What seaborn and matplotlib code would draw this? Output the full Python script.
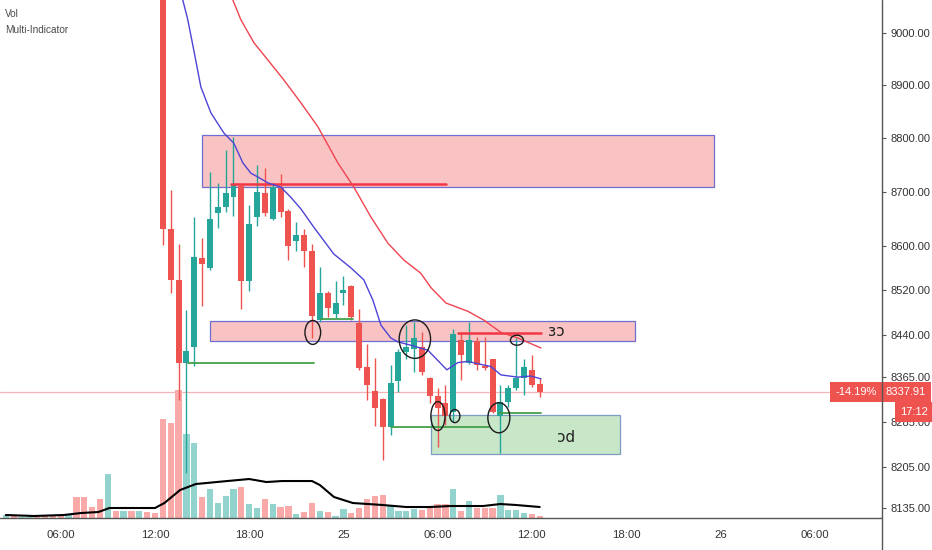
import numpy as np
import pandas as pd
import matplotlib
matplotlib.use("Agg")
import matplotlib.pyplot as plt
import matplotlib.transforms as mtransforms
from matplotlib.patches import Rectangle, Ellipse
from matplotlib.lines import Line2D
from matplotlib.ticker import FixedLocator, FixedFormatter, NullLocator
import seaborn as sns

# 30 min candles, time in hours counted from 24 Oct 00:00
times = np.arange(2.5, 37.0, 0.5)
opens = [9412, 9415, 9409, 9413, 9416, 9410, 9404, 9396, 9392, 9399,
         9378, 9357, 9349, 9331, 9386, 9378, 9387, 9380, 9389, 9384,
         9380, 8632, 8539, 8390, 8417, 8579, 8561, 8661, 8672, 8690,
         8712, 8537, 8654, 8698, 8650, 8707, 8665, 8610, 8621, 8592,
         8466, 8516, 8477, 8515, 8528, 8461, 8382, 8339, 8325, 8276,
         8357, 8408, 8415, 8417, 8362, 8330, 8318, 8302, 8430, 8390,
         8428, 8384, 8396, 8295, 8320, 8345, 8362, 8377, 8352]
highs = [9420, 9418, 9416, 9419, 9418, 9414, 9407, 9401, 9402, 9401,
         9381, 9362, 9352, 9392, 9390, 9391, 9389, 9392, 9391, 9388,
         9386, 8704, 8604, 8484, 8654, 8616, 8737, 8717, 8778, 8803,
         8715, 8676, 8750, 8745, 8716, 8733, 8668, 8645, 8632, 8604,
         8562, 8519, 8537, 8546, 8530, 8486, 8423, 8399, 8327, 8386,
         8414, 8457, 8462, 8444, 8364, 8345, 8350, 8450, 8443, 8462,
         8435, 8435, 8397, 8350, 8350, 8434, 8397, 8403, 8363]
lows = [9405, 9404, 9406, 9408, 9407, 9401, 9393, 9388, 9389, 9372,
        9352, 9344, 9326, 9328, 9374, 9375, 9377, 9378, 9381, 9376,
        8602, 8516, 8323, 8195, 8384, 8491, 8557, 8634, 8663, 8656,
        8486, 8519, 8637, 8656, 8648, 8654, 8575, 8592, 8562, 8434,
        8462, 8471, 8470, 8493, 8466, 8377, 8323, 8277, 8217, 8262,
        8337, 8397, 8373, 8368, 8318, 8240, 8279, 8284, 8359, 8388,
        8377, 8377, 8301, 8230, 8311, 8341, 8332, 8346, 8328]
closes = [9415, 9409, 9413, 9416, 9410, 9404, 9396, 9392, 9399, 9378,
          9357, 9349, 9331, 9386, 9378, 9387, 9380, 9389, 9384, 9380,
          8632, 8539, 8390, 8410, 8580, 8568, 8650, 8672, 8698, 8715,
          8537, 8641, 8700, 8661, 8709, 8663, 8601, 8621, 8592, 8473,
          8516, 8488, 8497, 8520, 8471, 8380, 8350, 8310, 8276, 8354,
          8408, 8417, 8434, 8373, 8330, 8310, 8295, 8441, 8403, 8430,
          8386, 8380, 8302, 8320, 8345, 8362, 8382, 8350, 8337.91]
volumes = [3, 2, 1, 1, 1, 2, 3, 2, 3, 21,
           21, 11, 19, 44, 7, 7, 7, 7, 6, 5,
           99, 95, 128, 84, 75, 21, 29, 15, 22, 29,
           31, 14, 10, 19, 14, 11, 12, 4, 6, 15,
           7, 6, 2, 9, 5, 10, 19, 22, 23, 12,
           7, 7, 9, 8, 10, 14, 14, 29, 7, 17,
           10, 10, 10, 23, 8, 8, 5, 4, 2]

# volume moving average
vol_ma_t = [2.5, 4.3, 6.2, 7.3, 8.4, 9.1, 12.0, 12.6, 13.6, 14.6, 16.6, 18.0, 19.1,
            20.1, 22.0, 22.5, 23.4, 24.6, 26.5, 28.0, 29.5, 30.8, 32.9, 34.0, 35.0, 36.5]
vol_ma = [3, 2, 3, 5, 6, 10, 10, 15, 28, 34, 37, 39, 36,
          37, 37, 33, 21, 15, 13, 11, 11, 12, 12, 14, 13, 11]

# moving averages from the Multi-Indicator
fast_t = [13.5, 13.77, 14.09, 14.47, 14.92, 15.56, 16.39, 17.02, 17.6, 18.11, 18.55, 19.19,
          20.02, 20.66, 21.29, 22.12, 23.39, 24.47, 25.3, 25.88, 26.39, 27.02, 27.47, 28.3,
          29.38, 30.59, 31.29, 31.93, 32.88, 33.39, 34.03, 35.11, 35.94, 36.58]
fast = [9140, 9063, 9025, 8967, 8897, 8848, 8810, 8791, 8754, 8735, 8728, 8717,
        8709, 8690, 8669, 8635, 8586, 8561, 8539, 8502, 8457, 8434, 8427, 8421,
        8412, 8377, 8390, 8392, 8386, 8383, 8368, 8364, 8366, 8361]
slow_t = [16.6, 16.96, 17.47, 18.3, 19.19, 20.21, 21.29, 22.37, 23.65, 24.67, 25.75,
          26.83, 27.85, 28.93, 29.57, 30.53, 31.93, 32.95, 34.03, 35.11, 36.58]
slow = [9140, 9063, 9025, 8981, 8948, 8910, 8867, 8822, 8754, 8709, 8654,
        8606, 8575, 8551, 8525, 8497, 8482, 8466, 8444, 8434, 8416]

price_ticks = [8135, 8205, 8285, 8365, 8440, 8520, 8600, 8700, 8800, 8900, 9000]
time_ticks = [6, 12, 18, 24, 30, 36, 42, 48, 54]
time_labels = ["06:00", "12:00", "18:00", "25", "06:00", "12:00", "18:00", "26", "06:00"]

# drawn zones: (t0, t1, p_low, p_high)
zones_red = [(15.0, 47.6, 8709, 8806), (15.5, 42.6, 8428, 8464)]
zone_green = (29.57, 41.6, 8228, 8297)
# drawn levels: (t0, t1, price)
red_levels = [(16.83, 30.53, 8715), (31.29, 36.58, 8443)]
green_levels = [(14.09, 22.12, 8390), (22.56, 24.6, 8468), (27.02, 33.3, 8276), (33.9, 36.58, 8300)]
# hand drawn circles: (t, price, width in hours, height in price)
circles = [(22.05, 8444, 1.0, 43), (28.55, 8432, 2.0, 69), (30.02, 8295, 0.9, 51),
           (31.1, 8295, 0.64, 23), (33.9, 8292, 1.4, 53), (35.05, 8430, 0.83, 18)]

df = pd.DataFrame(dict(t=times, o=opens, h=highs, l=lows, c=closes, v=volumes))
df["up"] = df.c >= df.o
last = closes[-1]

sns.set_style("white")
plt.rcParams["font.family"] = ["Liberation Sans", "DejaVu Sans"]

W, H = 932, 550
fig = plt.figure(figsize=(W / 100, H / 100), dpi=100)
rect = [0, 32 / H, 882 / W, 518 / H]
ax_v = fig.add_axes(rect)
ax = fig.add_axes(rect, sharex=ax_v)
ax.patch.set_alpha(0)

# volume
vcol = np.where(df.up, "#92d3cd", "#f8a9a8")
ax_v.bar(df.t, df.v, width=0.4, color=vcol, linewidth=0)
sns.lineplot(x=vol_ma_t, y=vol_ma, ax=ax_v, color="black", lw=1.5)
ax_v.set_ylim(0, max(volumes) * 4.05)
ax_v.axis("off")

# candles
col = np.where(df.up, "#26a69a", "#ef5350")
ax.axhline(last, color="#f7b4b4", lw=0.9, zorder=2)
ax.vlines(df.t, df.l, df.h, colors=col, lw=1, zorder=3)
body_lo = np.minimum(df.o, df.c)
body_h = np.maximum(np.abs(df.c - df.o), 2.5)
ax.bar(df.t, body_h, bottom=body_lo, width=0.38, color=col, linewidth=0, zorder=4)

sns.lineplot(x=fast_t, y=fast, ax=ax, color="#4d44d6", lw=1, zorder=5)
sns.lineplot(x=slow_t, y=slow, ax=ax, color="#f0434f", lw=1, zorder=5)

for t0, t1, lo, hi in zones_red:
    ax.add_patch(Rectangle((t0, lo), t1 - t0, hi - lo, fc="#f9c3c3", ec="#6f6fd2", lw=0.9, zorder=1))
t0, t1, lo, hi = zone_green
ax.add_patch(Rectangle((t0, lo), t1 - t0, hi - lo, fc="#c8e6c8", ec="#7c9cc4", lw=0.9, zorder=1))
for t0, t1, p in red_levels:
    ax.plot([t0, t1], [p, p], color="#f23645", lw=1.8, zorder=4.5)
for t0, t1, p in green_levels:
    ax.plot([t0, t1], [p, p], color="#43a047", lw=1.3, zorder=4.5)
for t, p, w, h in circles:
    ax.add_patch(Ellipse((t, p), w, h, fill=False, ec="#1a1a1a", lw=1, zorder=6))
ax.text(37.53, 8446, "ɜɔ", fontsize=11, family="DejaVu Sans", color="#222222", ha="center", va="center", zorder=6)
ax.text(38.2, 8257, "ɔd", fontsize=11, family="DejaVu Sans", color="#222222", ha="center", va="center", zorder=6)

ax.set_yscale("log")
ax.set_ylim(8117, 9063)
ax.set_xlim(2.13, 58.3)
ax.yaxis.set_major_locator(FixedLocator(price_ticks))
ax.yaxis.set_major_formatter(FixedFormatter([f"{p:.2f}" for p in price_ticks]))
ax.yaxis.set_minor_locator(NullLocator())
ax.yaxis.tick_right()
ax.set_xticks(time_ticks, time_labels)
ax.set_xlabel("")
ax.set_ylabel("")
ax.tick_params(axis="y", direction="out", length=3, width=0.8, pad=3, color="#555555",
               labelsize=8, labelcolor="#333333")
ax.tick_params(axis="x", direction="out", length=3, width=0.8, pad=6, color="#555555",
               labelsize=8.2, labelcolor="#333333")
for s in ax.spines.values():
    s.set_visible(False)

fig.add_artist(Line2D([882 / W, 882 / W], [0, 1], color="#555555", lw=1, transform=fig.transFigure))
fig.add_artist(Line2D([0, 882 / W], [32 / H, 32 / H], color="#555555", lw=1, transform=fig.transFigure))

# price tags
bt = mtransforms.blended_transform_factory(fig.transFigure, ax.transData)
tag = dict(boxstyle="square,pad=0.45", fc="#ef5350", ec="none")
ax.text(906 / W, last, f"{last:.2f}", transform=bt, ha="center", va="center", color="white",
        fontsize=8, bbox=tag, zorder=10, clip_on=False)
ax.text(856 / W, last, "-14.19%", transform=bt, ha="center", va="center", color="white",
        fontsize=8, bbox=tag, zorder=10, clip_on=False)
fig.text(914 / W, 1 - 412 / H, "17:12", ha="center", va="center", color="white",
         fontsize=8, bbox=tag, zorder=10)

fig.text(5 / W, 1 - 14 / H, "Vol", fontsize=7.2, color="#4a4a4a", va="center")
fig.text(5 / W, 1 - 30 / H, "Multi-Indicator", fontsize=7.2, color="#4a4a4a", va="center")

fig.savefig("out.png", dpi=100)
